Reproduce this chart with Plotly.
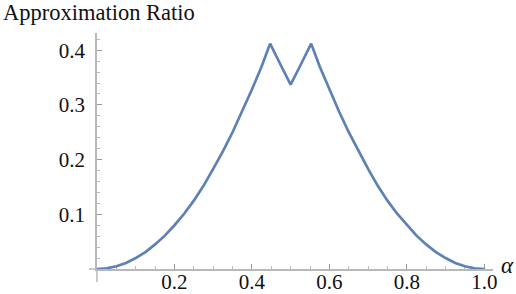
import plotly.graph_objects as go

# Data
alpha = [0.0, 0.025, 0.05, 0.075, 0.1, 0.125, 0.15, 0.175, 0.2, 0.225, 0.25,
         0.275, 0.3, 0.325, 0.35, 0.375, 0.4, 0.425, 0.447, 0.475, 0.5,
         0.525, 0.553, 0.575, 0.6, 0.625, 0.65, 0.675, 0.7, 0.725, 0.75,
         0.775, 0.8, 0.825, 0.85, 0.875, 0.9, 0.925, 0.95, 0.975, 1.0]
ratio = [0.0, 0.0012, 0.005, 0.011, 0.02, 0.031, 0.045, 0.061, 0.08, 0.101, 0.125,
         0.152, 0.183, 0.215, 0.25, 0.288, 0.328, 0.37, 0.412, 0.372, 0.337,
         0.372, 0.412, 0.37, 0.328, 0.288, 0.25, 0.215, 0.183, 0.152, 0.125,
         0.101, 0.08, 0.061, 0.045, 0.031, 0.02, 0.011, 0.005, 0.0012, 0.0]

x_ticks = [0.2, 0.4, 0.6, 0.8, 1.0]
x_tick_text = ["0.2", "0.4", "0.6", "0.8", "1.0"]
y_ticks = [0.1, 0.2, 0.3, 0.4]
y_tick_text = ["0.1", "0.2", "0.3", "0.4"]

FONT = "Liberation Serif, Times New Roman, serif"
AXIS_COLOR = "#b8b8b8"
TICK_COLOR = "#999999"

fig = go.Figure()
fig.add_trace(go.Scatter(
    x=alpha, y=ratio, mode="lines",
    line=dict(color="#5E81B5", width=2.7),
    hoverinfo="skip", showlegend=False, cliponaxis=False,
))

fig.update_layout(
    width=516, height=294,
    margin=dict(l=97, r=23, t=33, b=25),
    paper_bgcolor="white", plot_bgcolor="white",
    font=dict(family=FONT, size=21, color="#111111"),
    xaxis=dict(
        range=[0, 1.0225], showgrid=False, zeroline=False,
        showline=True, linecolor=AXIS_COLOR, linewidth=1.5,
        ticks="inside", ticklen=5, tickcolor=TICK_COLOR, tickwidth=1,
        tickvals=x_ticks, ticktext=x_tick_text,
        ticklabelstandoff=-7,
        minor=dict(ticks="inside", ticklen=3, tickcolor="#bbbbbb", dtick=0.05, tick0=0),
        layer="below traces", automargin=False, fixedrange=True,
    ),
    yaxis=dict(
        range=[0, 0.4314], showgrid=False, zeroline=False,
        showline=True, linecolor=AXIS_COLOR, linewidth=1.5,
        ticks="inside", ticklen=5, tickcolor=TICK_COLOR, tickwidth=1,
        tickvals=y_ticks, ticktext=y_tick_text,
        ticklabelstandoff=6,
        minor=dict(ticks="inside", ticklen=3, tickcolor="#bbbbbb", dtick=0.02, tick0=0),
        layer="below traces", automargin=False, fixedrange=True,
    ),
    shapes=[
        dict(type="line", xref="paper", yref="paper", x0=-0.0205, x1=0, y0=0, y1=0,
             line=dict(color=AXIS_COLOR, width=1.5)),
        dict(type="line", xref="paper", yref="paper", x0=0, x1=0, y0=-0.055, y1=0,
             line=dict(color=AXIS_COLOR, width=1.5)),
    ],
    annotations=[
        dict(text="Approximation Ratio", xref="paper", yref="paper",
             x=-0.243, y=1.085, xanchor="left", yanchor="middle",
             showarrow=False, font=dict(family=FONT, size=22.5, color="#111111")),
        dict(text="<i>α</i>", xref="paper", yref="paper",
             x=1.015, y=0.015, xanchor="left", yanchor="middle",
             showarrow=False, font=dict(family=FONT, size=23, color="#111111")),
    ],
)

fig.write_html("out.html", config={"displayModeBar": False},
               post_script="document.body.style.margin='0';")
